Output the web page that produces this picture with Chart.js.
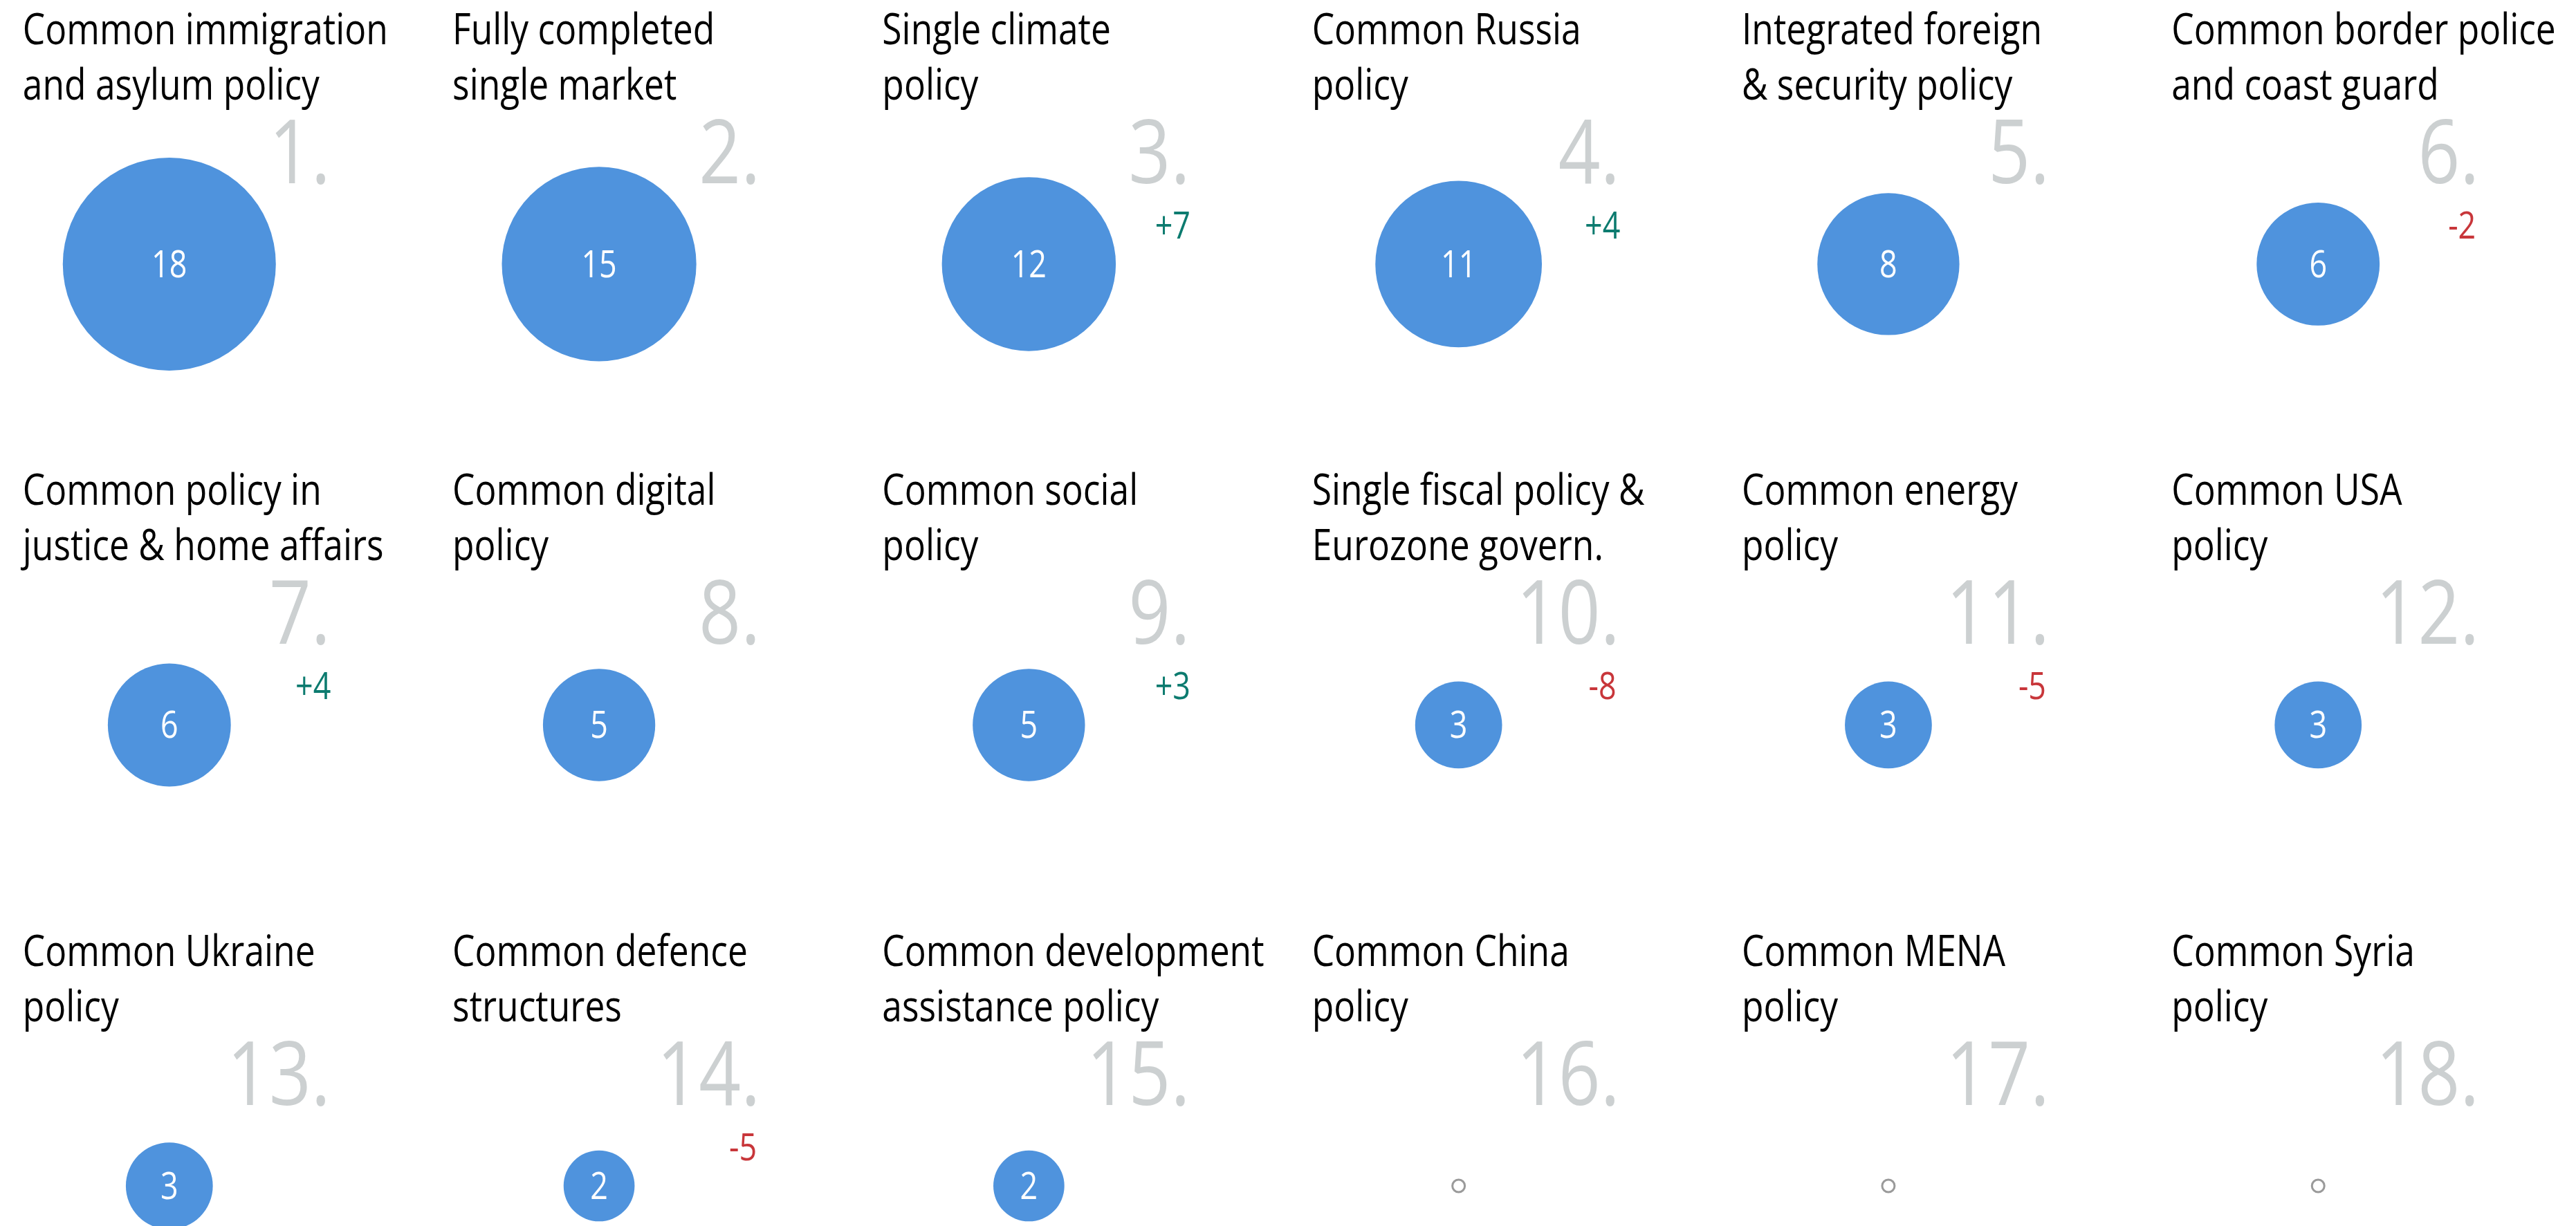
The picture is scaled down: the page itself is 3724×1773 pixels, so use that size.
<!DOCTYPE html>
<html>
<head>
<meta charset="utf-8">
<script src="https://cdn.jsdelivr.net/npm/chart.js@4/dist/chart.umd.min.js"></script>
<style>
  html, body { margin: 0; padding: 0; background: #fff; }
  #wrap { width: 3724px; height: 1773px; position: relative; }
</style>
</head>
<body>
<div id="wrap"><canvas id="myChart"></canvas></div>
<script>
// policy areas, two lines each, in rank order
const titlesLine1 = [
  'Common immigration', 'Fully completed', 'Single climate', 'Common Russia', 'Integrated foreign', 'Common border police',
  'Common policy in', 'Common digital', 'Common social', 'Single fiscal policy &', 'Common energy', 'Common USA',
  'Common Ukraine', 'Common defence', 'Common development', 'Common China', 'Common MENA', 'Common Syria'
];
const titlesLine2 = [
  'and asylum policy', 'single market', 'policy', 'policy', '& security policy', 'and coast guard',
  'justice & home affairs', 'policy', 'policy', 'Eurozone govern.', 'policy', 'policy',
  'policy', 'structures', 'assistance policy', 'policy', 'policy', 'policy'
];
const ranks = ['1.', '2.', '3.', '4.', '5.', '6.', '7.', '8.', '9.', '10.', '11.', '12.', '13.', '14.', '15.', '16.', '17.', '18.'];
const counts = [18, 15, 12, 11, 8, 6, 6, 5, 5, 3, 3, 3, 3, 2, 2, 0, 0, 0];
const changes = [null, null, 7, 4, null, -2, 4, null, 3, -8, -5, null, null, -5, null, null, null, null];

const COLS = 6;
const FONT = '"Open Sans", "Liberation Sans", sans-serif';
const BLUE = '#4F93DD';
const RANK_GRAY = '#CCD0D1';
const UP = '#0C7B6F';
const DOWN = '#C8363A';

function bubbleRadius(v) {
  return v > 0 ? Math.sqrt(v) * 36.3 : 9;
}

const points = counts.map((v, i) => ({ x: i % COLS, y: Math.floor(i / COLS) }));

// the original uses a condensed face, so squeeze text horizontally
let squeeze = 0.8;
function measureSqueeze(ctx) {
  ctx.save();
  ctx.font = '62px ' + FONT;
  const w = ctx.measureText('Common immigration').width;
  ctx.restore();
  squeeze = 528 / w;
}

function squeezedText(ctx, text, x, y) {
  ctx.save();
  ctx.translate(x, y);
  ctx.scale(squeeze, 1);
  ctx.fillText(text, 0, 0);
  ctx.restore();
}

const labelsPlugin = {
  id: 'labels',
  beforeDatasetsDraw(chart) {
    const { ctx, scales: { x, y } } = chart;
    measureSqueeze(ctx);
    ctx.save();
    // big grey rank numbers, behind the bubbles
    ctx.fillStyle = RANK_GRAY;
    ctx.font = '128px ' + FONT;
    ctx.textAlign = 'right';
    ctx.textBaseline = 'alphabetic';
    points.forEach((p, i) => {
      const cx = x.getPixelForValue(p.x);
      const cy = y.getPixelForValue(p.y);
      squeezedText(ctx, ranks[i], cx + 233, cy - 117);
    });
    ctx.restore();
  },
  afterDatasetsDraw(chart) {
    const { ctx, scales: { x, y } } = chart;
    ctx.save();
    points.forEach((p, i) => {
      const cx = x.getPixelForValue(p.x);
      const cy = y.getPixelForValue(p.y);

      // title
      ctx.fillStyle = '#000';
      ctx.font = '62px ' + FONT;
      ctx.textAlign = 'left';
      ctx.textBaseline = 'alphabetic';
      squeezedText(ctx, titlesLine1[i], cx - 212, cy - 318);
      squeezedText(ctx, titlesLine2[i], cx - 212, cy - 238);

      // value inside bubble
      ctx.textAlign = 'center';
      ctx.textBaseline = 'alphabetic';
      if (counts[i] > 0) {
        ctx.fillStyle = '#fff';
        ctx.font = '54px ' + FONT;
        squeezedText(ctx, String(counts[i]), cx, cy + 19);
      }

      // change vs previous survey
      const c = changes[i];
      if (c !== null) {
        ctx.fillStyle = c > 0 ? UP : DOWN;
        ctx.font = '54px ' + FONT;
        squeezedText(ctx, (c > 0 ? '+' : '-') + Math.abs(c), cx + 208, cy - 37);
      }
    });
    ctx.restore();
  }
};

const config = {
  type: 'bubble',
  data: {
    labels: titlesLine1,
    datasets: [{
      label: 'Mentions',
      data: points,
      radius: ctx => bubbleRadius(counts[ctx.dataIndex]),
      backgroundColor: ctx => counts[ctx.dataIndex] > 0 ? BLUE : 'rgba(0,0,0,0)',
      borderColor: ctx => counts[ctx.dataIndex] > 0 ? BLUE : '#9a9a9a',
      borderWidth: ctx => counts[ctx.dataIndex] > 0 ? 0 : 3,
      hoverRadius: 0
    }]
  },
  options: {
    responsive: true,
    maintainAspectRatio: false,
    animation: false,
    layout: { padding: 0, autoPadding: false },
    clip: false,
    plugins: {
      legend: { display: false },
      tooltip: { enabled: false }
    },
    scales: {
      x: { type: 'linear', display: false, min: -0.394, max: 5.6 },
      y: { type: 'linear', display: false, reverse: true, min: -0.573, max: 2.087 }
    }
  },
  plugins: [labelsPlugin]
};

const myChart = new Chart(document.getElementById('myChart'), config);
</script>
</body>
</html>
